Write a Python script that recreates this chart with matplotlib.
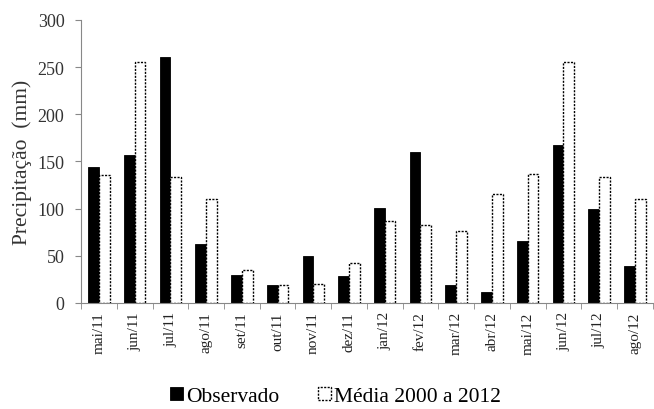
import numpy as np
import matplotlib.pyplot as plt
from matplotlib.ticker import FixedLocator

plt.rcParams['font.family'] = ['Liberation Serif', 'DejaVu Serif']

meses = ['mai/11', 'jun/11', 'jul/11', 'ago/11', 'set/11', 'out/11', 'nov/11', 'dez/11',
         'jan/12', 'fev/12', 'mar/12', 'abr/12', 'mai/12', 'jun/12', 'jul/12', 'ago/12']
observado = [144, 157, 261, 62, 29, 19, 50, 28, 101, 160, 19, 11, 66, 167, 100, 39]
media = [136, 255, 133, 110, 35, 19, 20, 42, 87, 83, 76, 115, 137, 255, 133, 110]

fig = plt.figure(figsize=(6.54, 4.10), dpi=100)
ax = fig.add_axes([0.124, 0.259, 0.874, 0.69])

x = np.arange(len(meses))
w = 0.3
ax.bar(x - w / 2, observado, w, color='black', edgecolor='black', linewidth=0.6,
       label='Observado')
ax.bar(x + w / 2, media, w, color='white', edgecolor='black', linewidth=1.0,
       linestyle=(0, (1.5, 1)), label='Média 2000 a 2012')

ax.set_xlim(-0.5, len(meses) - 0.5)
ax.set_ylim(0, 300)
ax.set_yticks(range(0, 301, 50))
ax.set_xticks(x)
ax.set_xticklabels(meses, rotation=90, fontsize=11)
ax.xaxis.set_minor_locator(FixedLocator(np.arange(-0.5, len(meses), 1)))
ax.tick_params(axis='x', which='major', length=0, pad=6, labelcolor='#222222')
ax.tick_params(axis='x', which='minor', length=4, color='#888888', direction='out')
ax.tick_params(axis='y', length=4, color='#888888', labelsize=13, labelcolor='#333333', pad=8)

for s in ['top', 'right']:
    ax.spines[s].set_visible(False)
for s in ['left', 'bottom']:
    ax.spines[s].set_color('#888888')

ax.set_ylabel('Precipitação  (mm)', fontsize=15.5, color='#333333', labelpad=4)

fig.legend(loc='lower center', bbox_to_anchor=(0.513, -0.04), ncol=2, frameon=False,
           fontsize=15.5, handlelength=0.6, handleheight=0.6, handletextpad=0.15,
           columnspacing=1.8)

fig.savefig('out.png', dpi=100)
